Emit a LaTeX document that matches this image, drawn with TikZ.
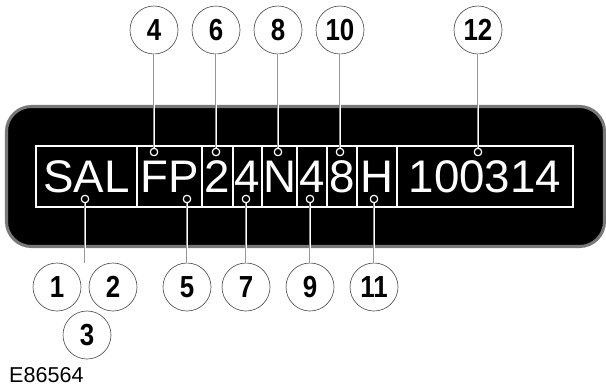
\documentclass[tikz,border=0pt]{standalone}
\usepackage{fontspec}
\setmainfont{Liberation Sans}
\newfontfamily\calloutfont[FakeStretch=0.85]{Liberation Sans}
\usetikzlibrary{positioning}
\definecolor{platerim}{RGB}{120,120,120}
\definecolor{haze}{RGB}{150,150,150}
\definecolor{ringgray}{RGB}{80,80,80}

\tikzset{
  callout/.style={circle, draw=ringgray, line width=0.55pt, fill=white, inner sep=0pt,
    minimum size=1.44cm, font=\calloutfont\bfseries\fontsize{26}{26}\selectfont},
  vintext/.style={text=white, inner sep=0pt, font=\fontsize{39}{39}\selectfont},
  boxline/.style={draw=haze, double=white, double distance=1pt, line width=0.4pt},
  leader/.style={draw=haze, double=white, double distance=0.7pt, line width=0.35pt},
  dot/.style={circle, draw=white, line width=0.9pt, fill=black, inner sep=0pt, minimum size=0.22cm}
}

\begin{document}
\begin{tikzpicture}[x=0.03cm, y=-0.03cm]
  \useasboundingbox (0,0) rectangle (606,387);
  % Plate
  \draw[platerim, line width=2.6pt, fill=black, rounded corners=0.75cm] (6.5,106.5) rectangle (604.5,246.5);
  % Character fields
  \foreach \name/\l/\r/\txt in {sal/36/137/SAL, fp/137/202/FP, six/202/233/2, seven/233/262/4,
      eight/262/297/N, nine/297/327/4, ten/327/357/8, eleven/357/397/H, serial/397/573/100314} {
    \draw[boxline] (\l,146) rectangle (\r,207);
    \node[vintext] (\name) at ({(\l+\r)/2},177) {\txt};
  }
  % Callouts above
  \foreach \n/\x in {4/154, 6/216, 8/278, 10/340, 12/478} {
    \node[callout] (c\n) at (\x,30) {\n};
    \node[dot] (d\n) at (\x,152) {};
    \draw[leader] (c\n) -- (d\n);
    \node[dot] at (d\n) {};
  }
  % Callouts below
  \foreach \n/\x in {5/187, 7/246, 9/310, 11/374} {
    \node[callout] (c\n) at (\x,287) {\n};
    \node[dot] (d\n) at (\x,199) {};
    \draw[leader] (d\n) -- (c\n);
    \node[dot] at (d\n) {};
  }
  \node[callout] (c1) at (57,287) {1};
  \node[callout] (c2) at (113,287) {2};
  \node[callout] (c3) at (87,335) {3};
  \node[dot] (d1) at (85,199) {};
  \coordinate (j1) at (85,263);
  \draw[leader] (d1) -- (j1);
  \node[dot] at (d1) {};
  % Figure number
  \node[anchor=base west, inner sep=0pt, font=\fontsize{18.4}{18.4}\selectfont] (fig) at (9,382) {E86564};
\end{tikzpicture}
\end{document}
